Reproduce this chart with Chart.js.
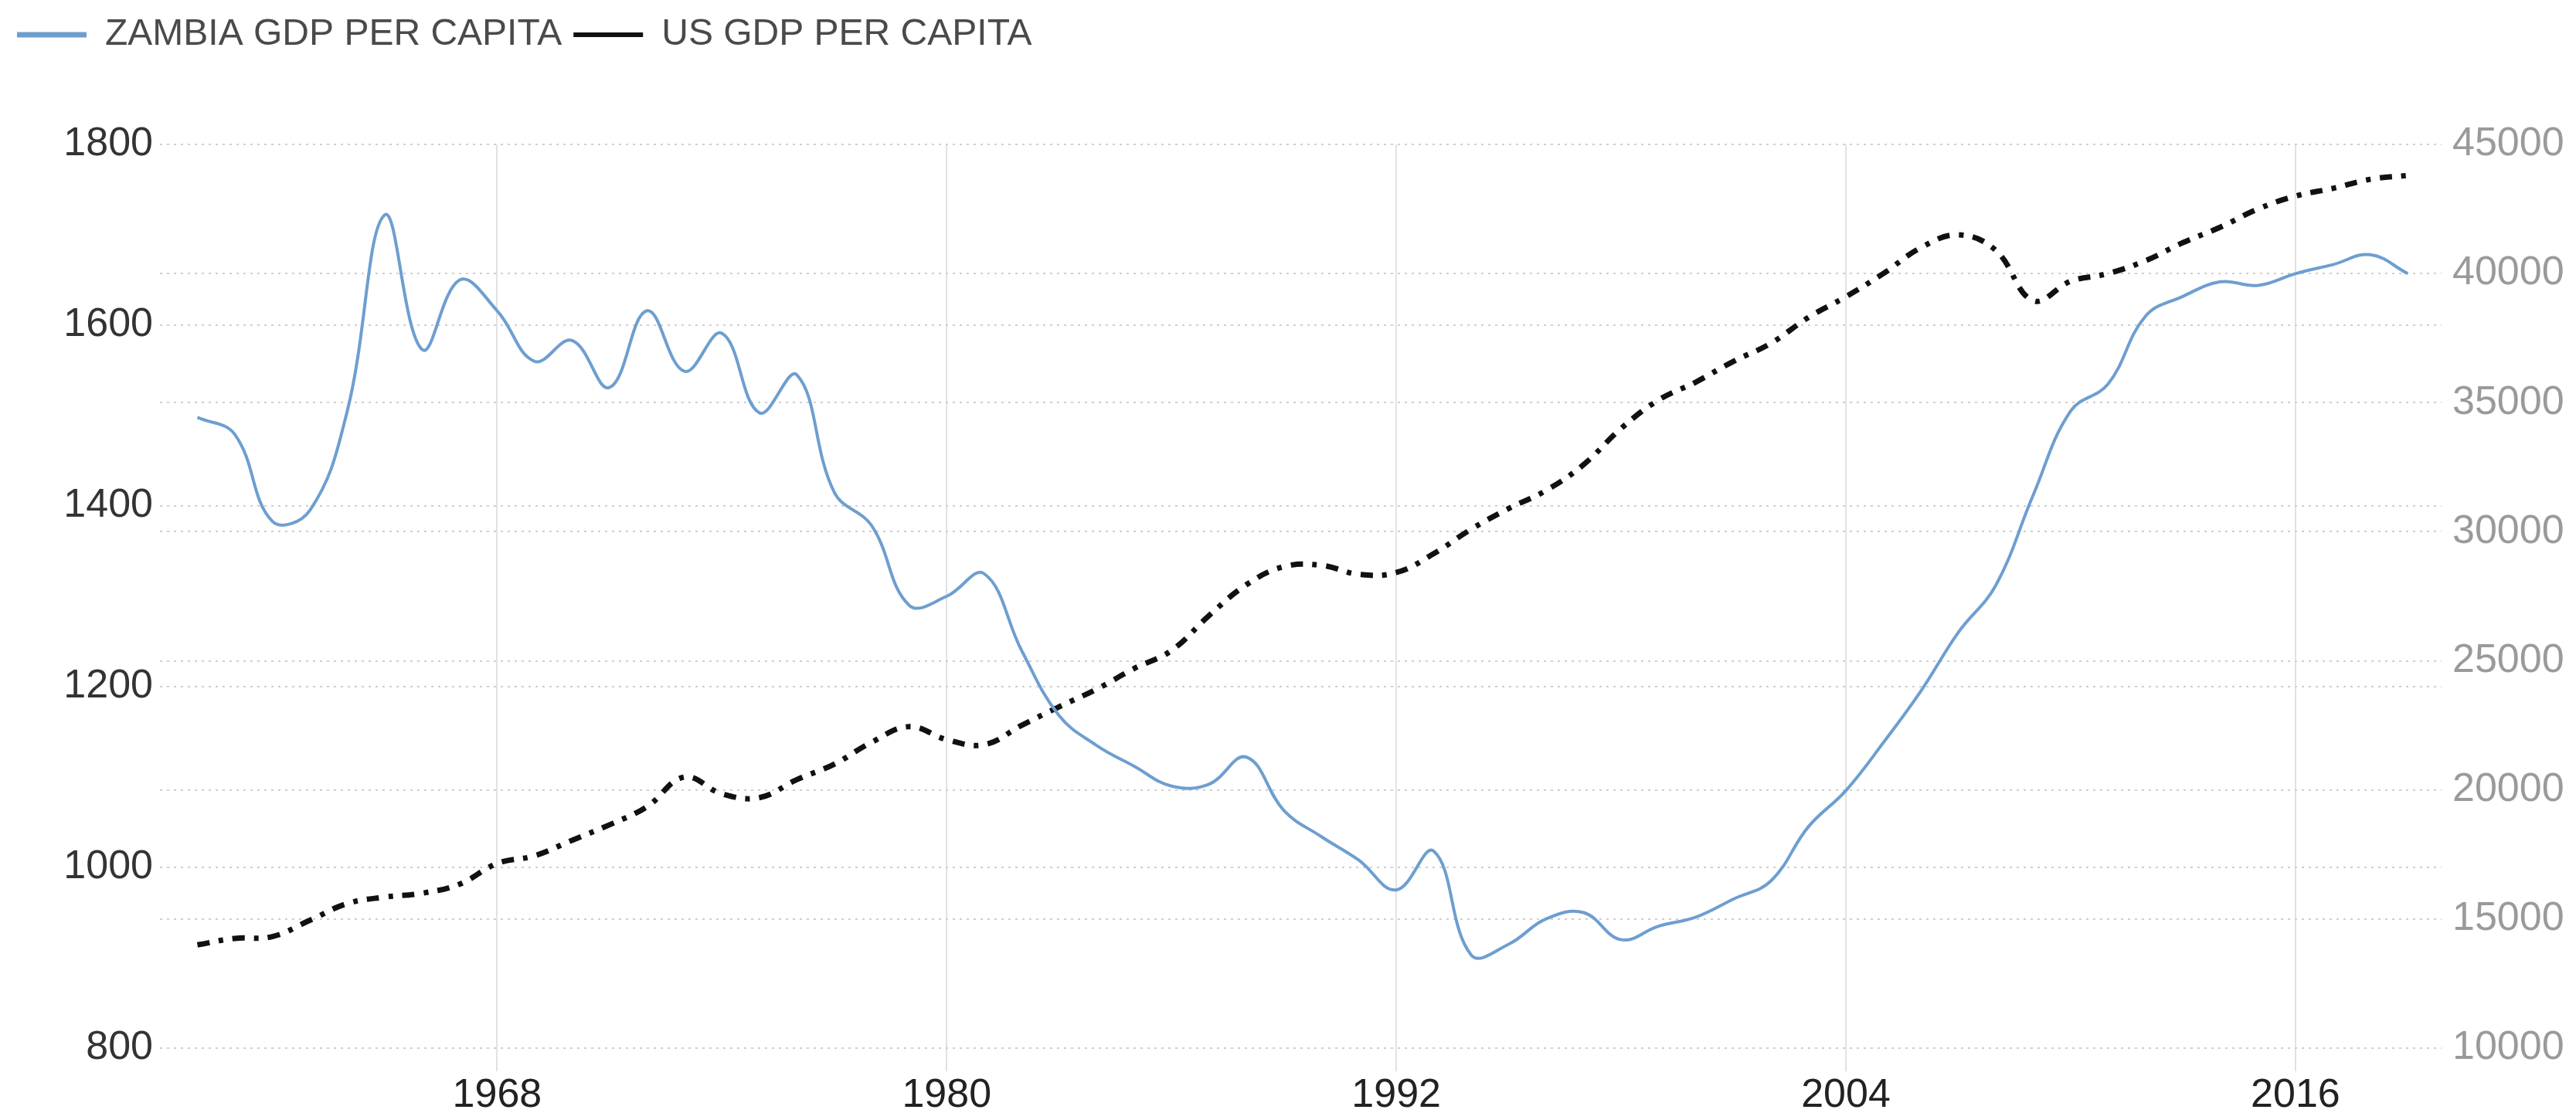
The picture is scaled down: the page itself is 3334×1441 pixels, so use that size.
<!DOCTYPE html>
<html>
<head>
<meta charset="utf-8">
<script src="https://cdn.jsdelivr.net/npm/chart.js@4.4.1/dist/chart.umd.min.js"></script>
<style>
  html, body { margin: 0; padding: 0; background: #fff; }
  #wrap { width: 3334px; height: 1441px; }
</style>
</head>
<body>
<div id="wrap"><canvas id="grafico"></canvas></div>
<script>
// Data
const years = [1960, 1961, 1962, 1963, 1964, 1965, 1966, 1967, 1968, 1969,
  1970, 1971, 1972, 1973, 1974, 1975, 1976, 1977, 1978, 1979,
  1980, 1981, 1982, 1983, 1984, 1985, 1986, 1987, 1988, 1989,
  1990, 1991, 1992, 1993, 1994, 1995, 1996, 1997, 1998, 1999,
  2000, 2001, 2002, 2003, 2004, 2005, 2006, 2007, 2008, 2009,
  2010, 2011, 2012, 2013, 2014, 2015, 2016, 2017, 2018, 2019];

const zambiaGdp = [1498, 1479, 1383, 1395, 1505, 1722, 1573, 1650, 1616, 1560,
  1583, 1531, 1616, 1549, 1591, 1503, 1545, 1415, 1378, 1290,
  1300, 1325, 1240, 1168, 1135, 1112, 1090, 1092, 1122, 1063,
  1034, 1008, 975, 1018, 903, 915, 943, 950, 920, 935,
  945, 965, 985, 1045, 1085, 1138, 1195, 1260, 1312, 1412,
  1505, 1535, 1610, 1632, 1648, 1644, 1657, 1667, 1678, 1657];

const usGdp = [14000, 14250, 14320, 14950, 15600, 15850, 16000, 16350, 17150, 17450,
  18050, 18650, 19350, 20500, 19850, 19700, 20400, 21000, 21850, 22450,
  21950, 21750, 22500, 23220, 23900, 24700, 25400, 26750, 27950, 28650,
  28700, 28350, 28420, 29150, 30100, 30900, 31600, 32600, 34000, 35100,
  35800, 36600, 37300, 38300, 39100, 40000, 41000, 41500, 40900, 38950,
  39700, 40000, 40500, 41200, 41800, 42500, 43000, 43300, 43650, 43800];

const seriesNames = ['ZAMBIA GDP PER CAPITA', 'US GDP PER CAPITA'];
const xTicks = [1968, 1980, 1992, 2004, 2016];

const fuente = '"Liberation Sans", Arial, sans-serif';

// extra space under the legend
const legendMargin = {
  id: 'legendMargin',
  beforeInit(chart) {
    const fitOriginal = chart.legend.fit;
    chart.legend.fit = function fit() {
      fitOriginal.bind(chart.legend)();
      this.height += 108;
    };
  }
};

const ctx = document.getElementById('grafico').getContext('2d');

new Chart(ctx, {
  type: 'line',
  data: {
    datasets: [{
      label: seriesNames[0],
      data: years.map((y, i) => ({ x: y, y: zambiaGdp[i] })),
      borderColor: '#6e9ed0',
      backgroundColor: '#6e9ed0',
      borderWidth: 4,
      pointRadius: 0,
      tension: 0.4,
      yAxisID: 'y'
    }, {
      label: seriesNames[1],
      data: years.map((y, i) => ({ x: y, y: usGdp[i] })),
      borderColor: '#111',
      backgroundColor: '#111',
      borderWidth: 7,
      borderDash: [16, 12, 6, 12],
      pointRadius: 0,
      tension: 0.4,
      yAxisID: 'y1'
    }]
  },
  options: {
    responsive: true,
    maintainAspectRatio: false,
    animation: false,
    devicePixelRatio: 1,
    layout: { padding: { top: 6, left: 7, right: 0, bottom: 0 } },
    plugins: {
      tooltip: { enabled: false },
      legend: {
        position: 'top',
        align: 'start',
        labels: {
          usePointStyle: true,
          pointStyleWidth: 90,
          boxWidth: 90,
          boxHeight: 6,
          padding: 15,
          color: '#4a4a4a',
          font: { family: fuente, size: 48 },
          generateLabels(chart) {
            const items = Chart.defaults.plugins.legend.labels.generateLabels(chart);
            items.forEach((it, i) => {
              it.pointStyle = 'line';
              it.lineWidth = i === 0 ? 7 : 6;
            });
            return items;
          }
        }
      }
    },
    scales: {
      x: {
        type: 'linear',
        min: 1959,
        max: 2019.9,
        afterBuildTicks(scale) {
          scale.ticks = xTicks.map(v => ({ value: v }));
        },
        afterFit(scale) { scale.height = 84; },
        grid: {
          color: '#e2e2e2',
          lineWidth: 2,
          drawTicks: true,
          tickLength: 30,
          tickColor: '#e2e2e2'
        },
        border: { display: false },
        ticks: {
          color: '#222',
          font: { family: fuente, size: 52 },
          padding: 0,
          maxRotation: 0,
          callback: v => String(v)
        }
      },
      y: {
        position: 'left',
        min: 800,
        max: 1800,
        afterFit(scale) { scale.width = 200; },
        grid: { color: '#cfcfcf', lineWidth: 2, drawTicks: false },
        border: { display: false, dash: [3, 6] },
        ticks: {
          stepSize: 200,
          color: '#333',
          padding: 9,
          font: { family: fuente, size: 52 },
          callback: v => String(v)
        }
      },
      y1: {
        position: 'right',
        min: 10000,
        max: 45000,
        afterFit(scale) { scale.width = 174; },
        grid: { color: '#cfcfcf', lineWidth: 2, drawTicks: false },
        border: { display: false, dash: [3, 6] },
        ticks: {
          stepSize: 5000,
          color: '#9a9a9a',
          padding: 14,
          font: { family: fuente, size: 52 },
          callback: v => String(v)
        }
      }
    }
  },
  plugins: [legendMargin]
});
</script>
</body>
</html>
